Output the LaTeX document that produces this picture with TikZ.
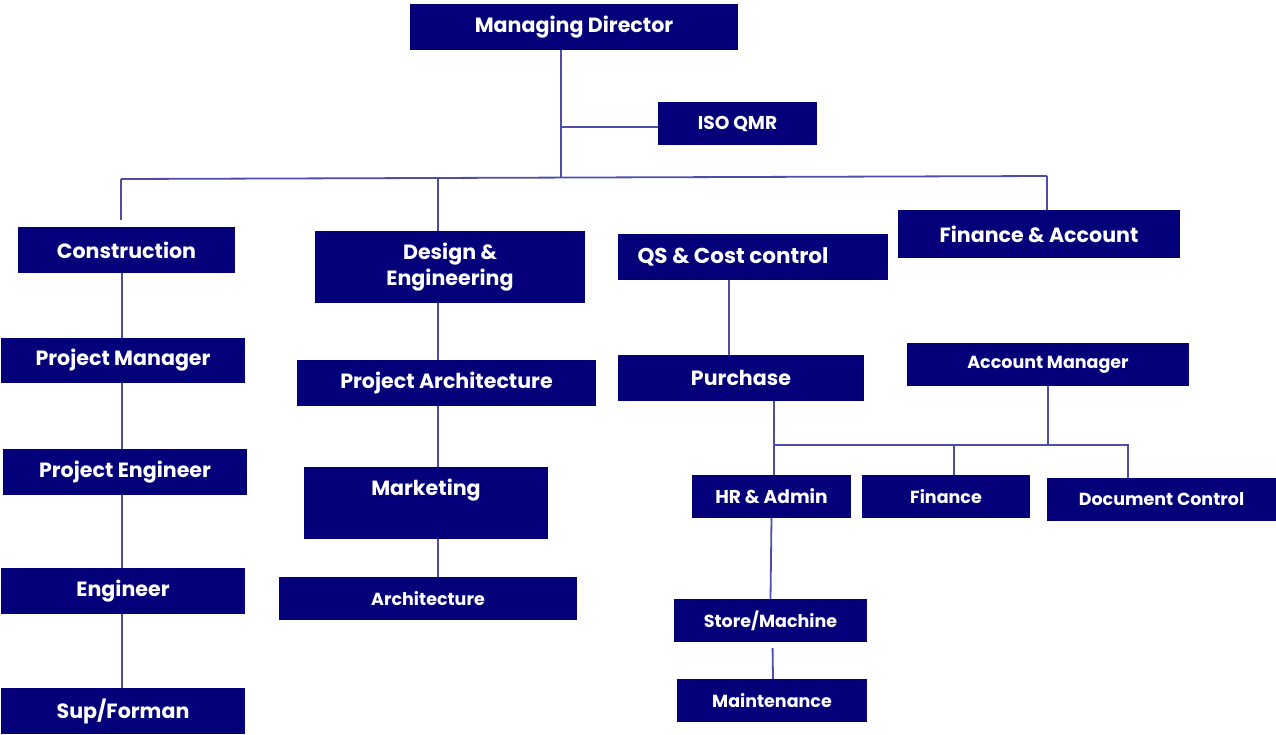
\documentclass[tikz,border=0pt]{standalone}
\usepackage{fontspec}
\setmainfont{Poppins}
\definecolor{boxc}{RGB}{4,0,122}
\definecolor{linec}{RGB}{78,78,170}
\tikzset{
  bx/.style={fill=boxc, text=white, inner sep=0pt, font=\bfseries\fontsize{20.6}{26}\selectfont, align=center},
  bxs/.style={bx, font=\bfseries\fontsize{17.5}{21}\selectfont},
  bxm/.style={bx, font=\bfseries\fontsize{18.6}{22}\selectfont},
  ln/.style={draw=linec, line width=1.8pt}
}
\begin{document}
\begin{tikzpicture}[x=1pt,y=-1pt]
\useasboundingbox (0,0) rectangle (1276,734);
% top
\node[bx, minimum width=328pt, minimum height=46pt] (md) at (574,27) {Managing Director};
\node[bxm, minimum width=159pt, minimum height=43pt] (iso) at (737.5,123.5) {ISO QMR};
% departments
\node[bx, minimum width=217pt, minimum height=46pt] (con) at (126.5,250) {Construction};
\node[bx, minimum width=270pt, minimum height=72pt] (des) at (450,267) {Design \&\\Engineering};
\node[bx, font=\bfseries\fontsize{21.5}{26}\selectfont, minimum width=270pt, minimum height=46pt] (qs) at (753,257) {\hspace*{-40pt}QS \& Cost control};
\node[bx, minimum width=282pt, minimum height=48pt] (fa) at (1039,234) {Finance \& Account};
% construction column
\node[bx, minimum width=244pt, minimum height=45pt] (pm) at (123,360.5) {Project Manager};
\node[bx, minimum width=244pt, minimum height=46pt] (pe) at (125,472) {Project Engineer};
\node[bx, minimum width=244pt, minimum height=46pt] (eng) at (123,591) {Engineer};
\node[bx, minimum width=244pt, minimum height=46pt] (sup) at (123,711) {Sup/Forman};
% design column
\node[bx, minimum width=299pt, minimum height=46pt] (pa) at (446.5,383) {Project Architecture};
\node[bx, minimum width=244pt, minimum height=72pt] (mkt) at (426,503) {\raisebox{8pt}[0pt][0pt]{Marketing}};
\node[bxs, minimum width=298pt, minimum height=43pt] (arch) at (428,598.5) {Architecture};
% qs column
\node[bx, minimum width=246pt, minimum height=46pt] (pur) at (741,378) {Purchase};
\node[bxs, minimum width=282pt, minimum height=43pt] (am) at (1048,364.5) {Account Manager};
\node[bxm, minimum width=159pt, minimum height=43pt] (hr) at (771.5,496.5) {HR \& Admin};
\node[bxs, minimum width=168pt, minimum height=43pt] (fin) at (946,496.5) {Finance};
\node[bxs, minimum width=229pt, minimum height=43pt] (dc) at (1161.5,499.5) {Document Control};
\node[bxs, minimum width=193pt, minimum height=43pt] (sm) at (770.5,620.5) {Store/Machine};
\node[bxs, minimum width=190pt, minimum height=43pt] (mt) at (772,700.5) {Maintenance};
% junction coordinates
\coordinate (jl) at (121,179);
\coordinate (jr) at (1047,176);
\coordinate (jm) at (561,177.5);
\coordinate (jd) at (438,178);
\coordinate (isoj) at (561,127);
\coordinate (b1) at (774,445);
\coordinate (b2) at (1128,445);
% connectors
\draw[ln] (md.south -| jm) -- (jm);
\draw[ln] (isoj) -- (isoj -| iso.west);
\draw[ln] (jl) -- (jr);
\draw[ln, shorten >=7pt] (jl) -- (jl |- con.north);
\draw[ln] (jd) -- (jd |- des.north);
\draw[ln] (jr) -- (jr |- fa.north);
% construction column
\draw[ln] ([xshift=-1pt]pm.north |- con.south) -- ([xshift=-1pt]pm.north);
\draw[ln] ([xshift=-1pt]pm.south) -- ([xshift=-1pt]pm.south |- pe.north);
\draw[ln] ([xshift=-1pt]pm.south |- pe.south) -- ([xshift=-1pt]eng.north);
\draw[ln] ([xshift=-1pt]eng.south) -- ([xshift=-1pt]sup.north);
% design column
\draw[ln] (jd |- des.south) -- (jd |- pa.north);
\draw[ln] (jd |- pa.south) -- (jd |- mkt.north);
\draw[ln] (jd |- mkt.south) -- (jd |- arch.north);
% qs column
\draw[ln] ([xshift=-24pt]qs.south) -- ([xshift=-24pt]qs.south |- pur.north);
\draw[ln] (b1 |- pur.south) -- (b1 |- hr.north);
\draw[ln] (am.south) -- (am.south |- b1);
\draw[ln] (b1) -- (b2) -- (b2 |- dc.north);
\draw[ln] ([xshift=8pt]fin.north |- b1) -- ([xshift=8pt]fin.north);
\draw[ln] (hr.south) -- (sm.north);
\draw[ln, shorten <=6pt] ([xshift=2pt]sm.south) -- ([xshift=1pt]mt.north);
\end{tikzpicture}
\end{document}
